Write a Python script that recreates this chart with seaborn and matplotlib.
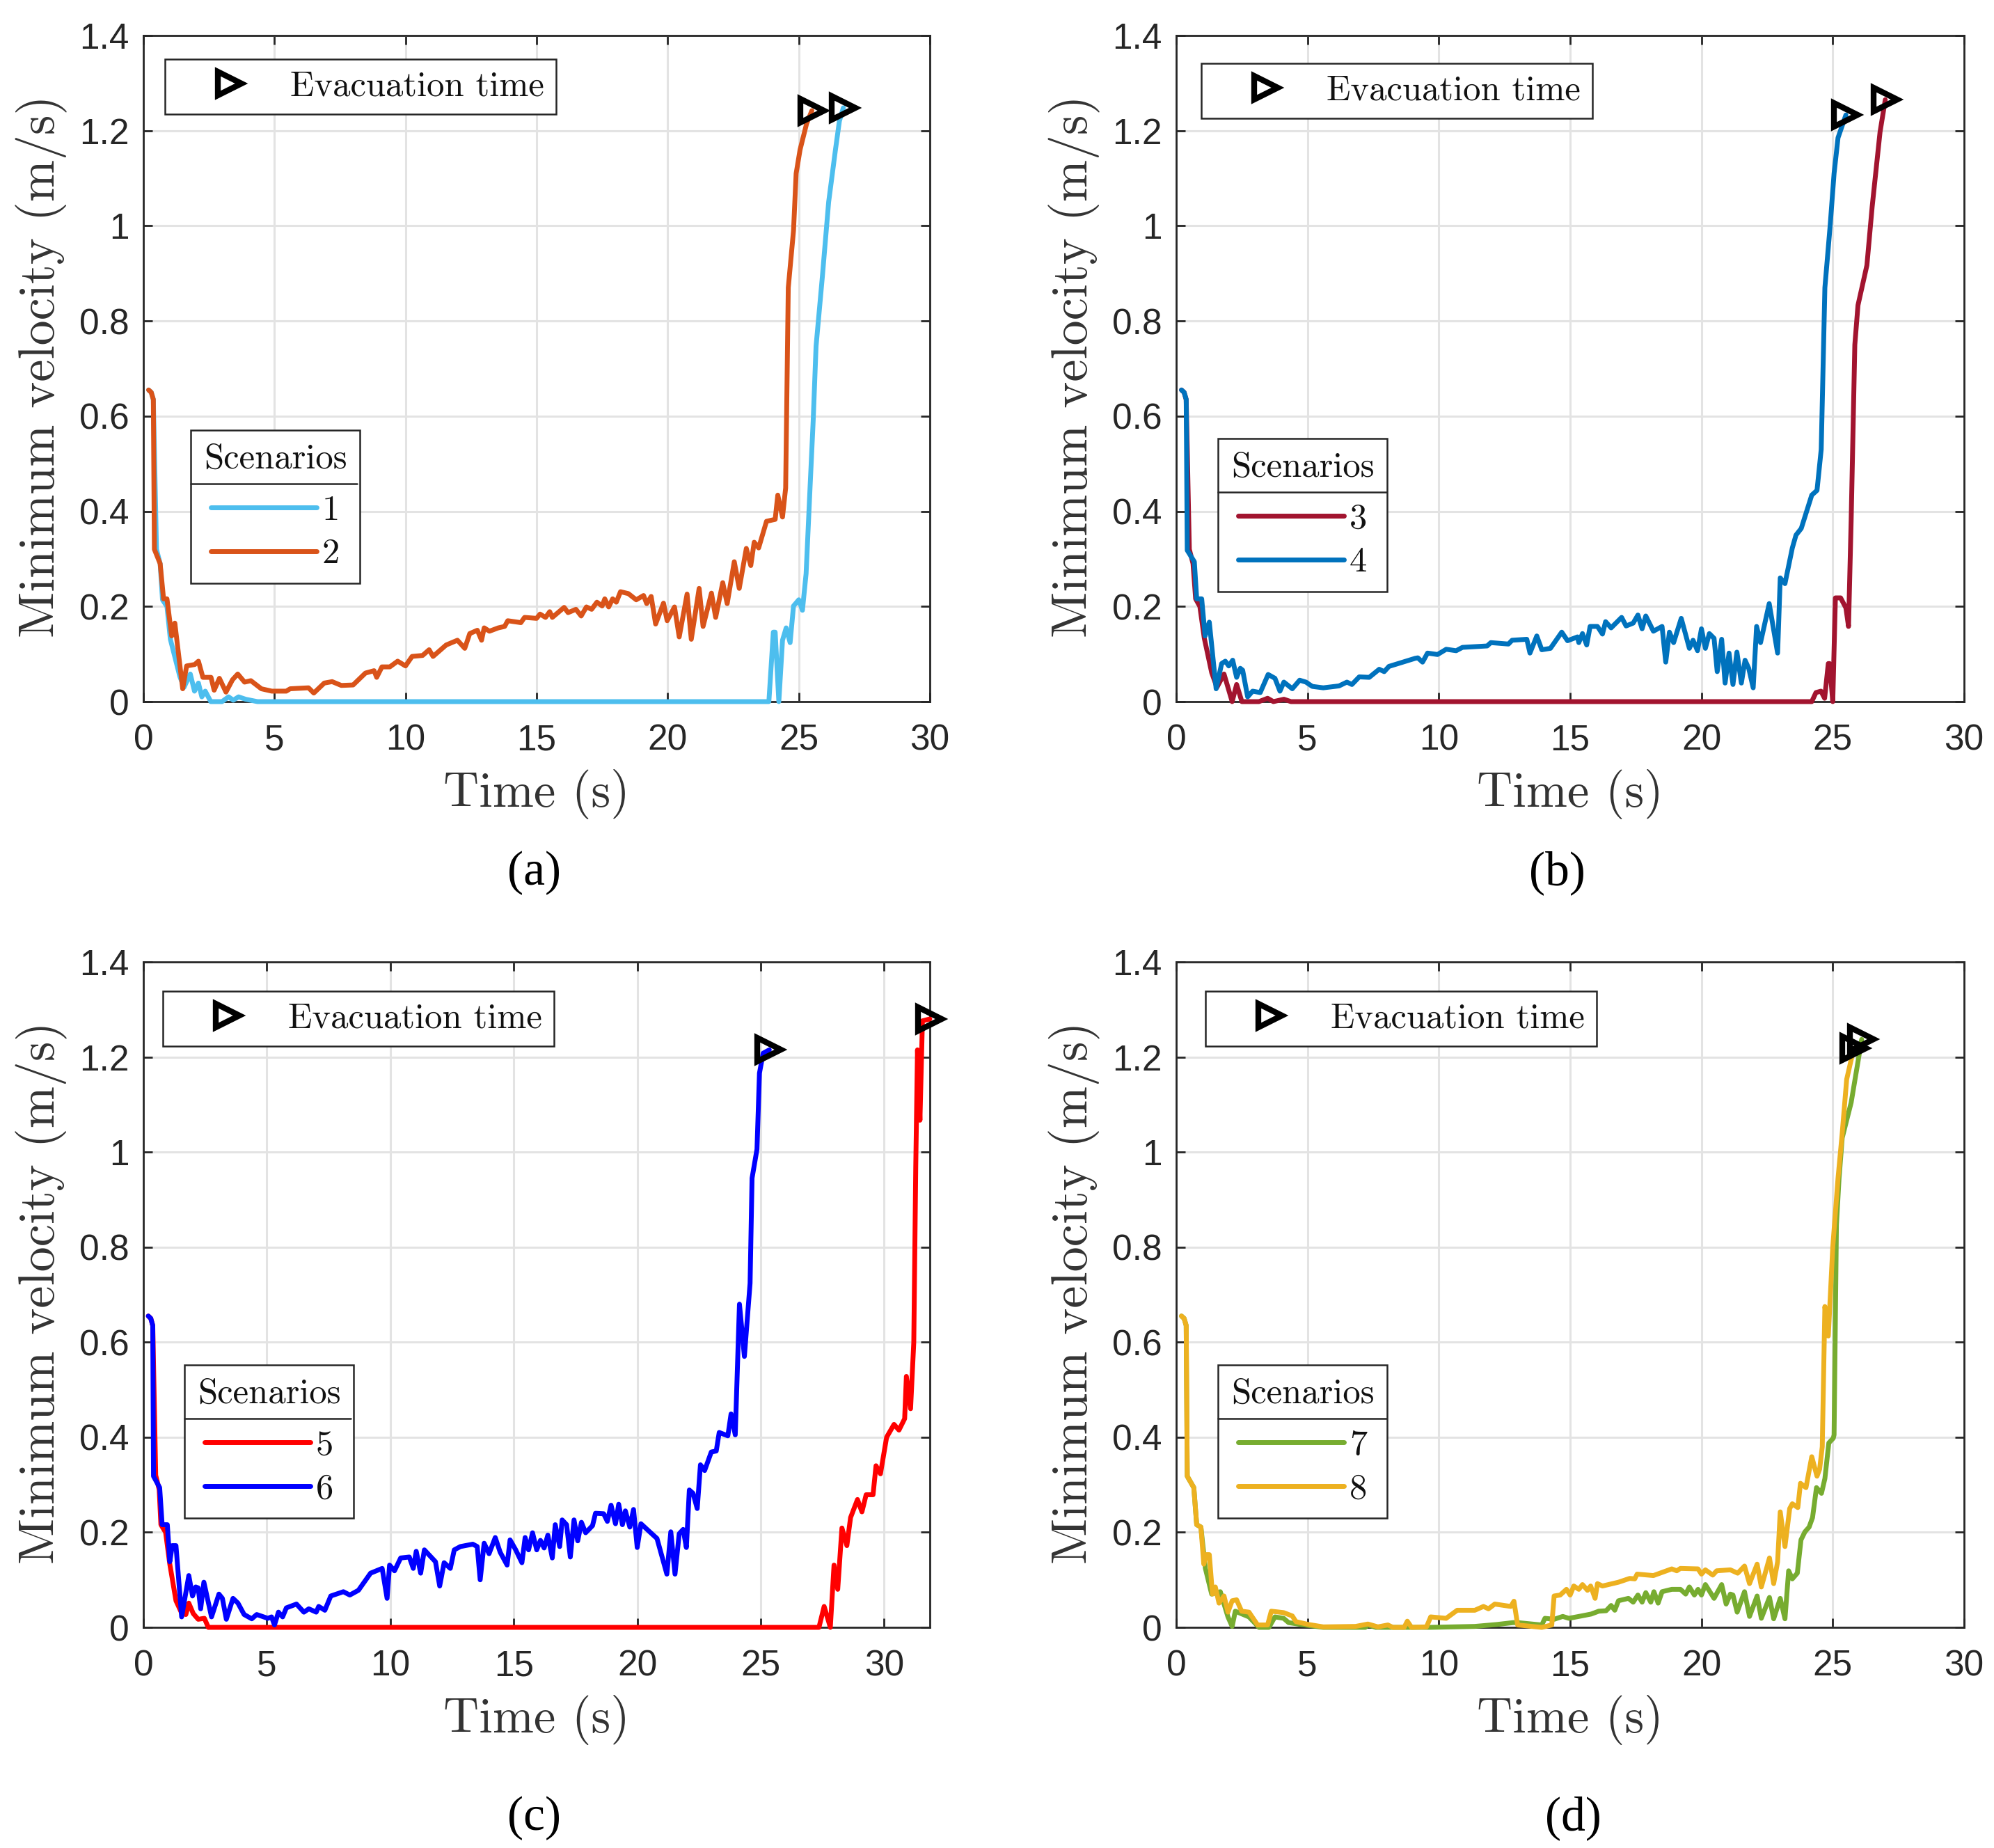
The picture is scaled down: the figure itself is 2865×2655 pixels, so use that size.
#!/usr/bin/env python3
#
# Minimum velocity over time for the eight evacuation scenarios
#

import matplotlib
matplotlib.use("Agg")
import matplotlib.pyplot as plt
from matplotlib.lines import Line2D
import seaborn as sns

# scenario curves
t1 = [0.2, 0.3, 0.38, 0.5, 0.64, 0.73, 0.9, 1.03, 1.39, 1.55, 1.79, 1.95, 2.1, 2.23, 2.36, 2.57, 3.0, 3.25, 3.43, 3.63, 3.9, 4.35, 10.0, 20.0, 23.86, 24.03, 24.1, 24.24, 24.38, 24.52, 24.67, 24.8, 25.0, 25.14, 25.28, 25.43, 25.55, 25.66, 25.9, 26.14, 26.4, 26.55, 26.7]
v1 = [0.655, 0.65, 0.635, 0.32, 0.29, 0.214, 0.2, 0.131, 0.053, 0.03, 0.058, 0.022, 0.039, 0.01, 0.022, 0.0, 0.0, 0.01, 0.003, 0.01, 0.005, 0.0, 0.0, 0.0, 0.0, 0.146, 0.146, 0.0, 0.129, 0.155, 0.124, 0.201, 0.214, 0.192, 0.269, 0.449, 0.59, 0.747, 0.893, 1.05, 1.16, 1.22, 1.248]

t2 = [0.2, 0.3, 0.38, 0.42, 0.64, 0.77, 0.9, 1.08, 1.2, 1.5, 1.65, 1.96, 2.1, 2.27, 2.58, 2.7, 2.9, 3.15, 3.4, 3.6, 3.86, 4.1, 4.5, 4.9, 5.45, 5.6, 6.3, 6.5, 6.9, 7.2, 7.55, 8.0, 8.47, 8.8, 8.9, 9.1, 9.4, 9.7, 10.0, 10.25, 10.65, 10.9, 11.05, 11.55, 11.98, 12.26, 12.45, 12.74, 12.9, 13.0, 13.2, 13.54, 13.78, 13.9, 14.4, 14.54, 15.0, 15.13, 15.34, 15.5, 15.6, 16.05, 16.2, 16.5, 16.7, 16.9, 17.1, 17.3, 17.5, 17.6, 17.75, 17.9, 18.04, 18.2, 18.5, 18.8, 19.08, 19.2, 19.37, 19.54, 19.84, 19.98, 20.26, 20.44, 20.74, 20.9, 21.2, 21.35, 21.67, 21.83, 22.1, 22.27, 22.54, 22.73, 23.0, 23.17, 23.3, 23.47, 23.77, 24.1, 24.2, 24.38, 24.5, 24.6, 24.8, 24.9, 25.05, 25.3, 25.5]
v2 = [0.655, 0.65, 0.635, 0.32, 0.29, 0.216, 0.216, 0.138, 0.165, 0.027, 0.075, 0.078, 0.085, 0.051, 0.051, 0.024, 0.049, 0.02, 0.046, 0.058, 0.041, 0.044, 0.027, 0.022, 0.022, 0.027, 0.029, 0.018, 0.039, 0.042, 0.034, 0.035, 0.06, 0.065, 0.051, 0.073, 0.073, 0.085, 0.075, 0.095, 0.097, 0.109, 0.095, 0.119, 0.129, 0.112, 0.143, 0.15, 0.129, 0.155, 0.148, 0.155, 0.158, 0.17, 0.166, 0.177, 0.175, 0.184, 0.177, 0.189, 0.177, 0.198, 0.187, 0.194, 0.18, 0.199, 0.194, 0.209, 0.201, 0.216, 0.199, 0.216, 0.209, 0.231, 0.227, 0.214, 0.223, 0.206, 0.221, 0.163, 0.207, 0.17, 0.199, 0.136, 0.226, 0.131, 0.238, 0.158, 0.228, 0.177, 0.25, 0.206, 0.294, 0.238, 0.322, 0.286, 0.335, 0.323, 0.379, 0.383, 0.434, 0.388, 0.449, 0.87, 0.99, 1.11, 1.16, 1.215, 1.242]

t3 = [0.2, 0.3, 0.38, 0.5, 0.64, 0.74, 0.9, 1.07, 1.35, 1.55, 1.82, 2.13, 2.3, 2.5, 3.15, 3.48, 3.7, 4.1, 4.37, 10.0, 20.0, 24.2, 24.36, 24.55, 24.69, 24.83, 24.88, 25.0, 25.1, 25.3, 25.5, 25.6, 25.7, 25.84, 25.96, 26.3, 26.5, 26.8, 27.0]
v3 = [0.655, 0.65, 0.635, 0.32, 0.29, 0.216, 0.2, 0.133, 0.061, 0.03, 0.058, 0.0, 0.036, 0.0, 0.0, 0.007, 0.0, 0.005, 0.0, 0.0, 0.0, 0.0, 0.019, 0.022, 0.007, 0.08, 0.08, 0.0, 0.218, 0.218, 0.197, 0.158, 0.38, 0.75, 0.833, 0.917, 1.04, 1.197, 1.265]

t4 = [0.2, 0.3, 0.38, 0.42, 0.69, 0.78, 0.97, 1.1, 1.26, 1.52, 1.73, 1.87, 2.0, 2.15, 2.3, 2.44, 2.53, 2.72, 2.91, 3.2, 3.5, 3.76, 3.95, 4.1, 4.42, 4.7, 4.94, 5.18, 5.6, 6.2, 6.5, 6.69, 6.97, 7.35, 7.73, 7.92, 8.1, 9.1, 9.2, 9.38, 9.57, 9.95, 10.28, 10.66, 10.9, 11.84, 11.98, 12.65, 12.79, 13.35, 13.47, 13.73, 13.92, 14.25, 14.68, 14.9, 15.28, 15.33, 15.47, 15.63, 15.76, 16.04, 16.23, 16.35, 16.56, 16.96, 17.13, 17.4, 17.58, 17.74, 17.88, 18.17, 18.5, 18.64, 18.78, 18.94, 19.23, 19.54, 19.68, 19.85, 20.0, 20.15, 20.3, 20.48, 20.6, 20.77, 20.9, 21.05, 21.2, 21.35, 21.52, 21.66, 21.8, 21.97, 22.1, 22.25, 22.58, 22.9, 23.0, 23.18, 23.46, 23.6, 23.8, 24.2, 24.4, 24.56, 24.7, 24.9, 25.05, 25.2, 25.5]
v4 = [0.655, 0.65, 0.635, 0.318, 0.294, 0.216, 0.216, 0.138, 0.167, 0.027, 0.08, 0.085, 0.075, 0.087, 0.051, 0.07, 0.066, 0.01, 0.022, 0.019, 0.057, 0.049, 0.022, 0.041, 0.027, 0.045, 0.041, 0.032, 0.029, 0.033, 0.041, 0.036, 0.052, 0.051, 0.068, 0.063, 0.074, 0.091, 0.092, 0.083, 0.102, 0.099, 0.11, 0.107, 0.114, 0.117, 0.124, 0.121, 0.129, 0.131, 0.102, 0.138, 0.109, 0.112, 0.146, 0.128, 0.136, 0.124, 0.143, 0.119, 0.158, 0.158, 0.142, 0.168, 0.155, 0.177, 0.159, 0.165, 0.182, 0.153, 0.18, 0.148, 0.158, 0.083, 0.146, 0.124, 0.175, 0.112, 0.129, 0.107, 0.153, 0.112, 0.143, 0.133, 0.063, 0.131, 0.039, 0.102, 0.036, 0.104, 0.039, 0.087, 0.07, 0.029, 0.158, 0.124, 0.206, 0.102, 0.26, 0.248, 0.323, 0.35, 0.364, 0.434, 0.444, 0.53, 0.87, 1.0, 1.11, 1.185, 1.233]

t5 = [0.2, 0.3, 0.38, 0.5, 0.64, 0.71, 0.9, 1.07, 1.32, 1.55, 1.72, 1.84, 2.02, 2.22, 2.47, 2.63, 10.0, 20.0, 27.36, 27.57, 27.82, 27.97, 28.12, 28.29, 28.49, 28.64, 28.92, 29.1, 29.27, 29.55, 29.67, 29.85, 30.1, 30.4, 30.6, 30.83, 30.9, 31.07, 31.2, 31.28, 31.35, 31.45, 31.55, 31.85]
v5 = [0.655, 0.65, 0.635, 0.32, 0.29, 0.216, 0.2, 0.133, 0.056, 0.03, 0.027, 0.051, 0.029, 0.017, 0.019, 0.0, 0.0, 0.0, 0.0, 0.044, 0.0, 0.131, 0.08, 0.209, 0.172, 0.231, 0.269, 0.243, 0.279, 0.279, 0.34, 0.323, 0.4, 0.427, 0.415, 0.439, 0.528, 0.46, 0.6, 0.97, 1.215, 1.067, 1.276, 1.28]

t6 = [0.2, 0.3, 0.38, 0.41, 0.66, 0.76, 0.97, 1.07, 1.17, 1.32, 1.55, 1.84, 1.99, 2.12, 2.22, 2.32, 2.45, 2.76, 3.06, 3.2, 3.36, 3.63, 3.83, 4.08, 4.39, 4.59, 5.04, 5.19, 5.31, 5.47, 5.64, 5.79, 6.2, 6.5, 6.7, 7.0, 7.1, 7.35, 7.59, 8.1, 8.36, 8.71, 9.2, 9.67, 9.87, 9.97, 10.17, 10.42, 10.77, 10.93, 11.05, 11.23, 11.38, 11.83, 12.0, 12.18, 12.43, 12.59, 12.84, 13.34, 13.52, 13.64, 13.8, 14.0, 14.25, 14.45, 14.73, 14.85, 15.08, 15.33, 15.46, 15.6, 15.76, 15.93, 16.08, 16.23, 16.38, 16.56, 16.68, 16.86, 16.96, 17.14, 17.29, 17.44, 17.59, 17.74, 17.91, 18.19, 18.31, 18.64, 18.79, 18.94, 19.12, 19.25, 19.4, 19.52, 19.7, 19.85, 20.0, 20.15, 20.4, 20.8, 21.2, 21.36, 21.53, 21.7, 21.86, 21.99, 22.11, 22.26, 22.43, 22.56, 22.73, 23.0, 23.2, 23.32, 23.67, 23.8, 23.97, 24.14, 24.34, 24.57, 24.65, 24.85, 24.95, 25.1, 25.35]
v6 = [0.655, 0.65, 0.635, 0.318, 0.294, 0.216, 0.216, 0.138, 0.172, 0.172, 0.022, 0.109, 0.066, 0.085, 0.083, 0.039, 0.095, 0.022, 0.07, 0.061, 0.017, 0.061, 0.051, 0.027, 0.018, 0.027, 0.019, 0.022, 0.005, 0.032, 0.022, 0.041, 0.049, 0.032, 0.039, 0.032, 0.044, 0.036, 0.066, 0.075, 0.068, 0.078, 0.114, 0.124, 0.061, 0.131, 0.119, 0.146, 0.148, 0.124, 0.16, 0.114, 0.163, 0.138, 0.087, 0.136, 0.124, 0.163, 0.17, 0.175, 0.17, 0.1, 0.177, 0.155, 0.189, 0.158, 0.131, 0.184, 0.163, 0.136, 0.189, 0.163, 0.199, 0.163, 0.183, 0.167, 0.194, 0.146, 0.216, 0.17, 0.226, 0.216, 0.148, 0.226, 0.182, 0.221, 0.199, 0.214, 0.24, 0.239, 0.223, 0.257, 0.218, 0.259, 0.216, 0.245, 0.211, 0.248, 0.168, 0.218, 0.206, 0.187, 0.112, 0.201, 0.112, 0.197, 0.206, 0.168, 0.289, 0.282, 0.25, 0.342, 0.33, 0.369, 0.371, 0.41, 0.403, 0.449, 0.405, 0.68, 0.57, 0.724, 0.945, 1.006, 1.166, 1.208, 1.215]

t7 = [0.2, 0.3, 0.38, 0.42, 0.67, 0.78, 0.94, 1.11, 1.35, 1.68, 1.97, 2.13, 2.25, 2.77, 3.15, 3.53, 3.76, 4.09, 4.28, 4.75, 5.6, 7.2, 7.3, 7.6, 9.67, 11.37, 12.2, 12.83, 13.0, 13.92, 14.04, 14.39, 14.72, 14.95, 15.43, 15.8, 16.09, 16.37, 16.56, 16.7, 16.84, 17.22, 17.4, 17.58, 17.74, 17.88, 18.07, 18.19, 18.35, 18.5, 18.87, 19.2, 19.4, 19.54, 19.73, 19.87, 20.0, 20.15, 20.48, 20.77, 20.94, 21.1, 21.2, 21.36, 21.64, 21.83, 22.12, 22.28, 22.59, 22.75, 23.0, 23.18, 23.32, 23.46, 23.65, 23.79, 23.94, 24.1, 24.23, 24.38, 24.57, 24.7, 24.85, 25.02, 25.05, 25.14, 25.24, 25.36, 25.7, 25.96, 26.1]
v7 = [0.655, 0.65, 0.635, 0.318, 0.294, 0.216, 0.211, 0.124, 0.07, 0.075, 0.022, 0.002, 0.034, 0.022, 0.0, 0.0, 0.022, 0.019, 0.01, 0.006, 0.0, 0.0, 0.005, 0.0, 0.0, 0.002, 0.006, 0.01, 0.01, 0.005, 0.019, 0.017, 0.023, 0.019, 0.024, 0.028, 0.034, 0.035, 0.046, 0.036, 0.056, 0.061, 0.053, 0.068, 0.053, 0.073, 0.053, 0.075, 0.051, 0.075, 0.08, 0.08, 0.07, 0.085, 0.068, 0.08, 0.068, 0.09, 0.061, 0.09, 0.049, 0.07, 0.068, 0.032, 0.075, 0.023, 0.066, 0.019, 0.063, 0.018, 0.061, 0.018, 0.119, 0.102, 0.114, 0.184, 0.201, 0.211, 0.231, 0.294, 0.282, 0.313, 0.388, 0.398, 0.405, 0.847, 0.945, 1.03, 1.104, 1.19, 1.237]

t8 = [0.2, 0.3, 0.38, 0.42, 0.67, 0.78, 0.94, 1.05, 1.14, 1.26, 1.38, 1.49, 1.63, 1.82, 1.97, 2.13, 2.3, 2.49, 2.77, 3.1, 3.48, 3.62, 4.09, 4.42, 4.56, 5.04, 5.6, 6.83, 7.3, 7.68, 8.06, 8.25, 8.68, 8.8, 8.96, 9.53, 9.69, 10.28, 10.7, 11.37, 11.7, 11.89, 12.13, 12.74, 12.86, 13.0, 13.92, 14.3, 14.39, 14.62, 14.86, 15.0, 15.14, 15.33, 15.47, 15.66, 15.78, 15.95, 16.04, 16.23, 16.84, 17.27, 17.46, 17.55, 18.17, 18.87, 19.06, 19.2, 19.87, 20.0, 20.15, 20.43, 20.58, 21.1, 21.38, 21.64, 21.83, 22.12, 22.28, 22.59, 22.75, 22.9, 23.0, 23.18, 23.36, 23.46, 23.67, 23.77, 23.98, 24.2, 24.4, 24.5, 24.6, 24.7, 24.83, 25.0, 25.2, 25.36, 25.53, 25.8]
v8 = [0.655, 0.65, 0.635, 0.318, 0.294, 0.216, 0.211, 0.133, 0.153, 0.153, 0.07, 0.085, 0.051, 0.066, 0.032, 0.056, 0.058, 0.034, 0.032, 0.005, 0.005, 0.034, 0.031, 0.024, 0.012, 0.006, 0.001, 0.002, 0.007, 0.001, 0.005, 0.0, 0.0, 0.013, 0.0, 0.001, 0.022, 0.019, 0.036, 0.036, 0.044, 0.039, 0.049, 0.044, 0.055, 0.005, 0.0, 0.005, 0.066, 0.068, 0.08, 0.068, 0.087, 0.08, 0.09, 0.078, 0.087, 0.061, 0.092, 0.087, 0.095, 0.103, 0.102, 0.112, 0.109, 0.123, 0.119, 0.124, 0.123, 0.112, 0.121, 0.11, 0.119, 0.121, 0.114, 0.129, 0.092, 0.133, 0.085, 0.146, 0.092, 0.138, 0.243, 0.17, 0.25, 0.26, 0.252, 0.303, 0.294, 0.359, 0.318, 0.333, 0.38, 0.675, 0.613, 0.8, 0.945, 1.04, 1.153, 1.218]

colors = ["#4DBEEE", "#D95319", "#A2142F", "#0072BD", "#FF0000", "#0000FF", "#77AC30", "#EDB120"]
scenario_names = ["1", "2", "3", "4", "5", "6", "7", "8"]
xticks = [0, 5, 10, 15, 20, 25, 30]
yticks = [0, 0.2, 0.4, 0.6, 0.8, 1, 1.2, 1.4]
ytick_labels = ["0", "0.2", "0.4", "0.6", "0.8", "1", "1.2", "1.4"]
panel_names = ["(a)", "(b)", "(c)", "(d)"]

all_curves = [(t1, v1), (t2, v2), (t3, v3), (t4, v4), (t5, v5), (t6, v6), (t7, v7), (t8, v8)]

W, H = 2865, 2655
INK = "#262626"
SERIF = ["cmr10", "DejaVu Serif"]

sns.set_theme(style="whitegrid")
plt.rcParams["font.family"] = ["Liberation Sans", "DejaVu Sans"]
plt.rcParams["axes.formatter.use_mathtext"] = True

fig = plt.figure(figsize=(W / 100, H / 100), dpi=100)


def make_panel(box, ids, xmax, evac_box, scen_box, sep_y):
    # box is left, top, right, bottom in image pixels
    left, top, right, bottom = box
    w, h = right - left, bottom - top
    ax = fig.add_axes([left / W, 1 - bottom / H, w / W, h / H])

    lines = []
    for i in ids:
        t, v = all_curves[i]
        sns.lineplot(x=t, y=v, ax=ax, color=colors[i], linewidth=5, estimator=None,
                     sort=False, errorbar=None, clip_on=False, zorder=3)
        lines.append(ax.lines[-1])
    # evacuation marker sits on the last point of each curve
    for i in ids:
        t, v = all_curves[i]
        ax.plot(t[-1], v[-1], marker=">", ms=24, mew=6, mfc="none", mec="black",
                clip_on=False, zorder=4, linestyle="none")

    ax.set_xlim(0, xmax)
    ax.set_ylim(0, 1.4)
    ax.set_xticks(xticks)
    ax.set_xticklabels([str(x) for x in xticks])
    ax.set_yticks(yticks)
    ax.set_yticklabels(ytick_labels)
    ax.grid(True, color="#e3e3e3", linewidth=2.2)
    ax.set_axisbelow(True)
    ax.tick_params(axis="x", direction="in", length=9.5, width=2, color=INK, labelcolor=INK,
                   labelsize=37, pad=23, top=True, bottom=True)
    ax.tick_params(axis="y", direction="in", length=9.5, width=2, color=INK, labelcolor=INK,
                   labelsize=37, pad=15, left=True, right=True)
    for s in ax.spines.values():
        s.set_visible(True)
        s.set_color(INK)
        s.set_linewidth(2)

    ax.set_xlabel("Time (s)", family=SERIF, fontsize=51, color="#333333")
    ax.set_ylabel("Minimum velocity (m/s)", family=SERIF, fontsize=52, color="#333333")
    ax.xaxis.set_label_coords(0.5, -(1105 - 1008) / h)
    ax.yaxis.set_label_coords(-(206 - 97) / w, 0.5 + (535 - 532) / h)

    def frac(x, y):
        return (x - left) / w, (bottom - y) / h

    handle = Line2D([], [], marker=">", ms=24, mew=6, mfc="none", mec="black", linestyle="none")
    evac = ax.legend([handle], ["Evacuation time"], loc="upper left", bbox_to_anchor=frac(evac_box[0], evac_box[1]),
                     borderaxespad=0, fancybox=False, framealpha=1, edgecolor=INK,
                     prop={"family": SERIF, "size": 36.5}, handlelength=3, handletextpad=0.22,
                     borderpad=0.33, labelcolor="#111111")
    evac.get_frame().set_linewidth(1.8)
    ax.add_artist(evac)

    scen = ax.legend(lines, [scenario_names[i] for i in ids], title="Scenarios", loc="upper left",
                     bbox_to_anchor=frac(scen_box[0], scen_box[1]), borderaxespad=0, fancybox=False,
                     framealpha=1, edgecolor=INK, prop={"family": SERIF, "size": 36.5},
                     title_fontproperties={"family": SERIF, "size": 36.5}, handlelength=3, handletextpad=0.15,
                     borderpad=0.37, labelspacing=0.32, labelcolor="#111111")
    # a bit more room between the title and the rows
    scen._legend_box.sep += 9
    scen.get_frame().set_linewidth(1.8)
    scen.get_title().set_color("#111111")
    sx0, sy = frac(scen_box[0], sep_y)
    sx1, _ = frac(scen_box[2], sep_y)
    ax.plot([sx0, sx1], [sy, sy], transform=ax.transAxes, color=INK, linewidth=1.8, zorder=10, clip_on=False)
    return ax


make_panel((206, 51, 1336, 1008), [0, 1], 30, (237, 85), (274, 618, 513), 695)
make_panel((1690, 51, 2822, 1008), [2, 3], 30, (1726, 91), (1750, 630, 1992), 707)
make_panel((206, 1382, 1336, 2338), [4, 5], 31.85, (234, 1424), (265, 1961, 504), 2038)
make_panel((1690, 1382, 2822, 2338), [6, 7], 30, (1732, 1424), (1750, 1961, 1992), 2038)

for name, x, y in zip(panel_names, [767, 2237, 767, 2260], [1254, 1254, 2612, 2612]):
    fig.text(x / W, 1 - y / H, name, family=["Liberation Serif"], fontsize=50, ha="center", va="center", color="black")

fig.savefig("out.png", dpi=100, facecolor="white")
plt.close(fig)
